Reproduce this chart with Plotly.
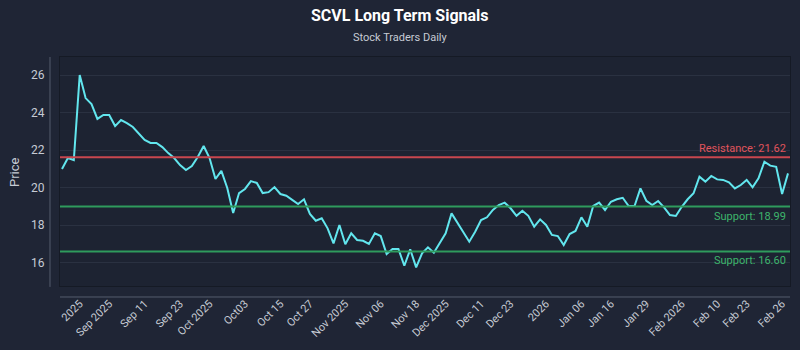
import plotly.graph_objects as go
import pandas as pd

# ---------------- data ----------------
holidays = ["2025-09-01", "2025-11-27", "2025-12-25", "2026-01-01", "2026-01-19", "2026-02-16"]
dates = [d.strftime("%Y-%m-%d") for d in
         pd.bdate_range("2025-08-29", "2026-02-26", freq="C", holidays=holidays)]

prices = [
    20.99, 21.58, 21.47, 26.00, 24.77, 24.45, 23.66, 23.87, 23.87, 23.28,
    23.60, 23.44, 23.23, 22.86, 22.54, 22.38, 22.38, 22.16, 21.84, 21.58,
    21.20, 20.94, 21.15, 21.63, 22.22, 21.58, 20.46, 20.89, 19.98, 18.65,
    19.71, 19.93, 20.35, 20.25, 19.71, 19.76, 20.03, 19.66, 19.57, 19.35,
    19.13, 19.38, 18.60, 18.24, 18.37, 17.83, 17.03, 18.01, 16.98, 17.57,
    17.21, 17.17, 17.00, 17.57, 17.42, 16.46, 16.73, 16.73, 15.84, 16.71,
    15.75, 16.50, 16.82, 16.53, 17.07, 17.57, 18.63, 18.13, 17.65, 17.12,
    17.65, 18.27, 18.42, 18.81, 19.07, 19.20, 18.90, 18.50, 18.77, 18.50,
    17.92, 18.31, 18.01, 17.48, 17.42, 16.94, 17.53, 17.69, 18.42, 17.92,
    19.02, 19.20, 18.81, 19.25, 19.38, 19.46, 19.02, 19.02, 19.96, 19.30,
    19.07, 19.29, 18.95, 18.54, 18.49, 18.98, 19.38, 19.70, 20.58, 20.32,
    20.62, 20.44, 20.41, 20.28, 19.96, 20.14, 20.41, 20.02, 20.50, 21.38,
    21.17, 21.11, 19.66, 20.76,
]

resistance = 21.62
supports = [18.99, 16.60]

tick_dates = ["2025-09-04", "2025-09-11", "2025-09-19", "2025-09-29", "2025-10-06",
              "2025-10-14", "2025-10-22", "2025-10-29", "2025-11-06", "2025-11-14",
              "2025-11-24", "2025-12-02", "2025-12-10", "2025-12-17", "2025-12-26",
              "2026-01-06", "2026-01-13", "2026-01-22", "2026-01-30", "2026-02-09",
              "2026-02-17", "2026-02-25"]
tick_labels = ["2025", "Sep 2025", "Sep 11", "Sep 23", "Oct 2025", "Oct03", "Oct 15",
               "Oct 27", "Nov 2025", "Nov 06", "Nov 18", "Dec 2025", "Dec 11", "Dec 23",
               "2026", "Jan 06", "Jan 16", "Jan 29", "Feb 2026", "Feb 10", "Feb 23", "Feb 26"]

y_ticks = [16, 18, 20, 22, 24, 26]

# ---------------- style ----------------
BG = "#1f2535"
PLOT_BG = "#1d2332"
TXT = "#c6cbd4"
FONT = "Roboto, 'Noto Sans', sans-serif"
RES_C = "#c8474f"
RES_T = "#e0545c"
SUP_C = "#2f9b5d"
SUP_T = "#3db56c"
LINE_C = "#62e6ee"
AXIS_C = "#555c6e"

fig = go.Figure()
fig.add_trace(go.Scatter(x=dates, y=prices, mode="lines",
                         line=dict(color=LINE_C, width=2), hoverinfo="x+y",
                         showlegend=False))

fig.add_hline(y=resistance, line=dict(color=RES_C, width=2))
for s in supports:
    fig.add_hline(y=s, line=dict(color=SUP_C, width=2))

fig.add_annotation(x=1, xref="paper", y=resistance, yref="y", xanchor="right",
                   yanchor="bottom", xshift=-2, yshift=0, showarrow=False,
                   text=f"Resistance: {resistance:.2f}", font=dict(color=RES_T, size=11, family=FONT))
for s in supports:
    fig.add_annotation(x=1, xref="paper", y=s, yref="y", xanchor="right",
                       yanchor="top", xshift=-2, yshift=-1, showarrow=False,
                       text=f"Support: {s:.2f}", font=dict(color=SUP_T, size=11, family=FONT))

# titles
fig.add_annotation(x=0.4658, xref="paper", y=1.1834, yref="paper", yanchor="middle",
                   showarrow=False, text="<b>SCVL Long Term Signals</b>",
                   font=dict(color="#ffffff", size=16, family=FONT))
fig.add_annotation(x=0.4658, xref="paper", y=1.083, yref="paper", yanchor="middle",
                   showarrow=False, text="Stock Traders Daily",
                   font=dict(color=TXT, size=11, family=FONT))
fig.add_annotation(x=-0.0616, xref="paper", y=0.498, yref="paper", textangle=-90,
                   xanchor="center", yanchor="middle",
                   showarrow=False, text="Price", font=dict(color=TXT, size=13, family=FONT))

# offset axis lines
fig.add_shape(type="line", xref="paper", yref="paper", x0=-0.0137, x1=-0.0137, y0=-0.004, y1=1,
              line=dict(color=AXIS_C, width=1))
fig.add_shape(type="line", xref="paper", yref="paper", x0=0, x1=1, y0=-0.048, y1=-0.048,
              line=dict(color=AXIS_C, width=1))

fig.update_layout(
    width=800, height=350,
    margin=dict(l=60, r=10, t=57, b=64),
    paper_bgcolor=BG, plot_bgcolor=PLOT_BG,
    font=dict(family=FONT, color=TXT, size=11),
    showlegend=False,
)
fig.update_xaxes(type="category", range=[-0.339, 123.339],
                 tickmode="array", tickvals=tick_dates, ticktext=tick_labels,
                 tickangle=-45, showgrid=False, zeroline=False,
                 showline=True, mirror=True, linecolor="#151a25", linewidth=1,
                 ticklabelstandoff=6, tickfont=dict(size=11, color=TXT))
fig.update_yaxes(range=[14.76, 26.96], tickvals=y_ticks, showgrid=True,
                 gridcolor="#2a3141", gridwidth=1, zeroline=False,
                 showline=True, mirror=True, linecolor="#151a25", linewidth=1,
                 ticklabelstandoff=12, tickfont=dict(size=12, color=TXT))

fig.write_html("out.html")
